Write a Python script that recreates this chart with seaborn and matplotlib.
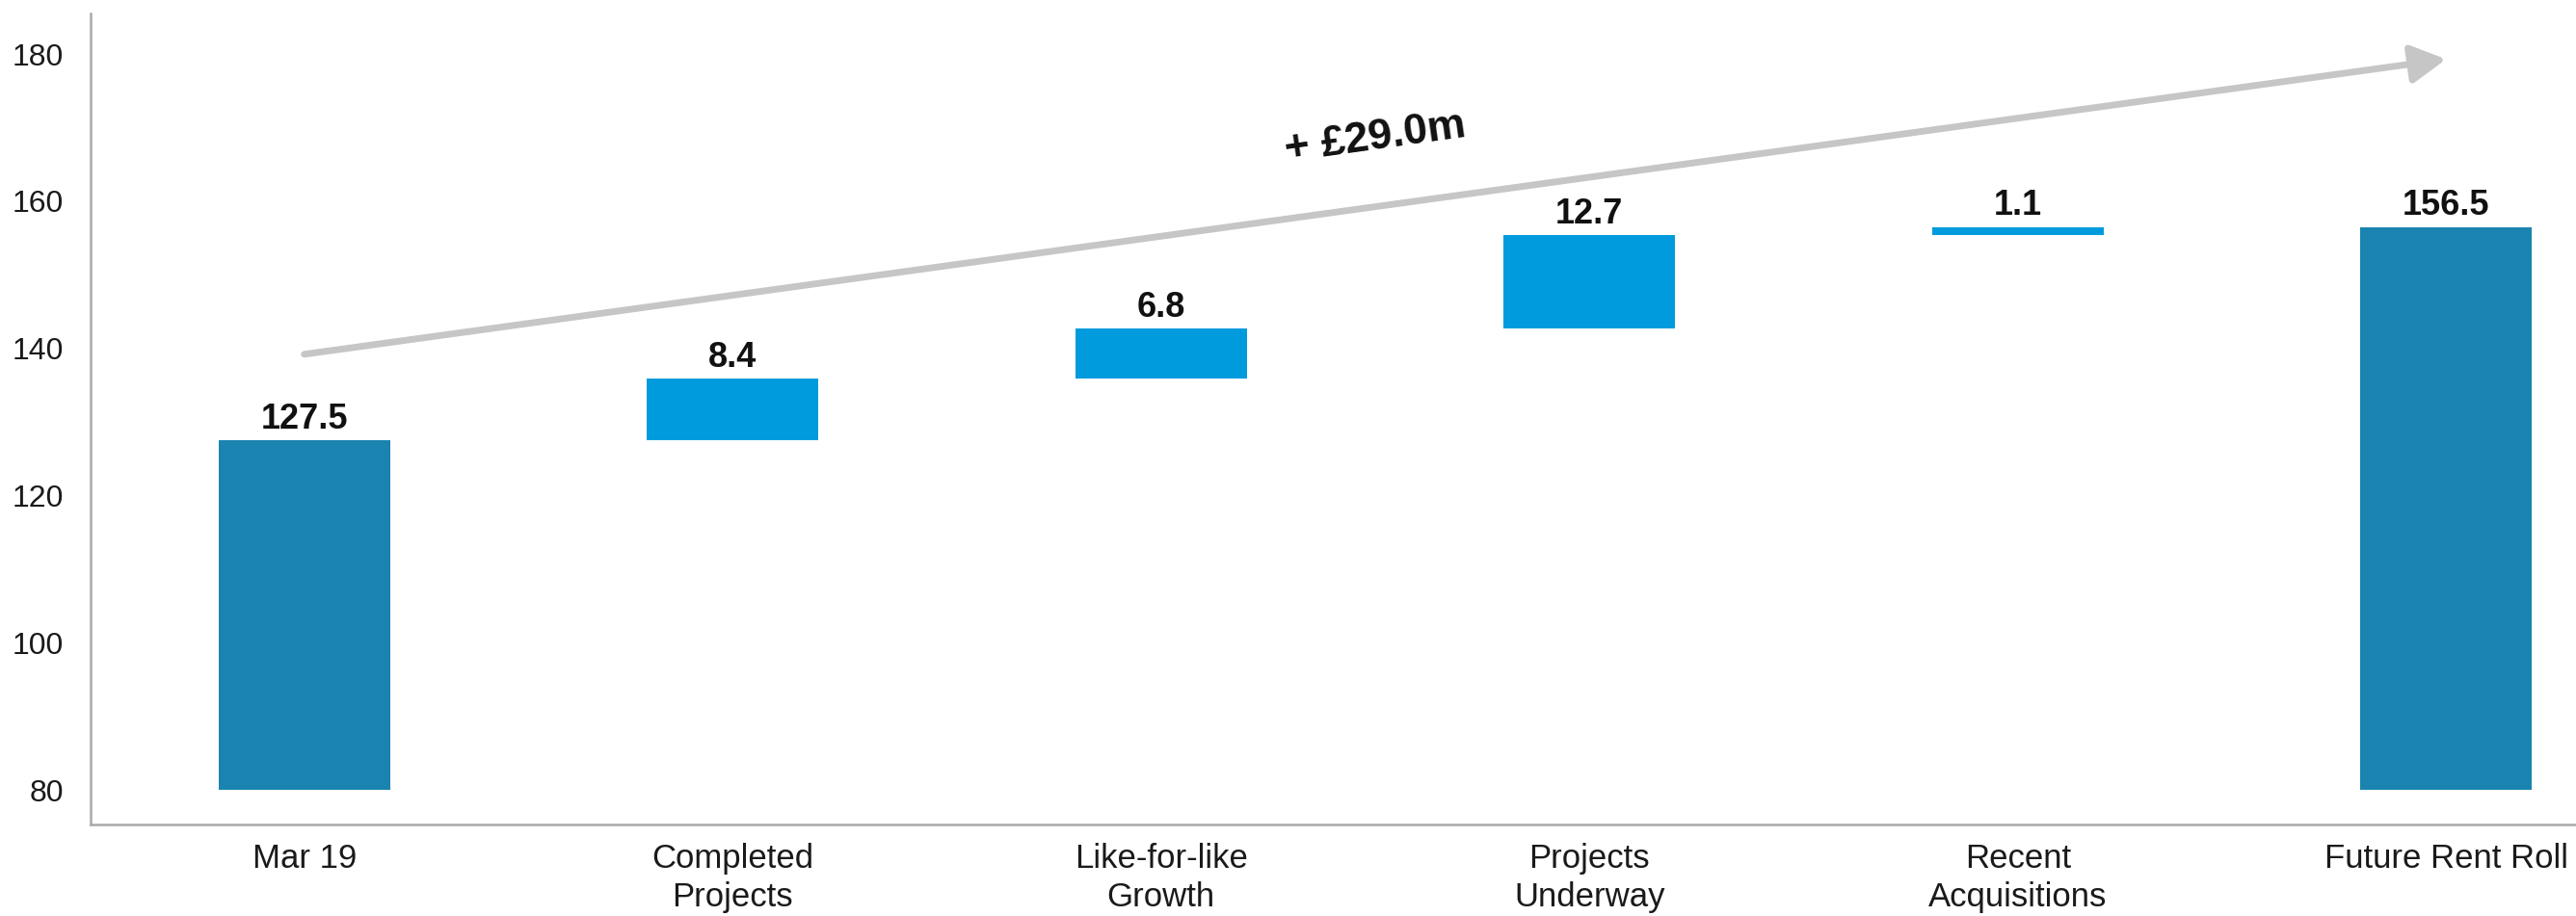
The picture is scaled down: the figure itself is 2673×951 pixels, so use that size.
import matplotlib
matplotlib.use("Agg")
import matplotlib.pyplot as plt
import pandas as pd
import seaborn as sns

# Rent roll bridge (GBP m)
categories = ["Mar 19", "Completed\nProjects", "Like-for-like\nGrowth",
              "Projects\nUnderway", "Recent\nAcquisitions", "Future Rent Roll"]
values = [127.5, 8.4, 6.8, 12.7, 1.1, 156.5]
is_total = [True, False, False, False, False, True]
y_ticks = [80, 100, 120, 140, 160, 180]
change_label = "+ £29.0m"

AXIS_FLOOR = 80
DARK = "#1a83b0"
LIGHT = "#009bdd"
SPINE = "#a9a9a9"
ARROW = "#c6c6c6"

# Floating bar geometry: totals stand on the axis floor, steps stack on the running total
bottoms, tops = [], []
running = 0.0
for v, tot in zip(values, is_total):
    if tot:
        bottoms.append(AXIS_FLOOR)
        running = v
        tops.append(v)
    else:
        bottoms.append(running)
        running += v
        tops.append(running)
heights = [t - b for t, b in zip(tops, bottoms)]

sns.set_theme(style="white")
plt.rcParams["font.family"] = ["Liberation Sans", "DejaVu Sans"]

fig = plt.figure(figsize=(26.73, 9.51), dpi=100)
ax = fig.add_axes([0.0352, 0.0999, 0.9648, 0.8853])

df = pd.DataFrame({"category": categories, "height": heights})
palette = {c: (DARK if t else LIGHT) for c, t in zip(categories, is_total)}
sns.barplot(data=df, x="category", y="height", hue="category", palette=palette,
            legend=False, width=0.4, saturation=1, ax=ax)
for patch, b in zip(ax.patches, bottoms):
    patch.set_y(b)
    patch.set_linewidth(0)

# Value labels above each bar
for i, (v, top) in enumerate(zip(values, tops)):
    ax.annotate(f"{v:.1f}", xy=(i, top), xytext=(0, 3), textcoords="offset points",
                ha="center", va="bottom", fontsize=26, fontweight="bold", color="#111111")

# Overall growth arrow
ax.annotate("", xy=(5.0, 179.3), xytext=(0.0, 139.2),
            arrowprops=dict(arrowstyle="-|>,head_length=1.1,head_width=0.6",
                            mutation_scale=20, color=ARROW, lw=5,
                            shrinkA=0, shrinkB=0))
ax.text(2.50, 168.6, change_label, rotation=8, rotation_mode="anchor",
        ha="center", va="center", fontsize=32, fontweight="bold", color="#111111")

ax.set_xlim(-0.4985, 5.303)
ax.set_ylim(75.3, 185.5)
ax.set_yticks(y_ticks)
ax.set_xlabel("")
ax.set_ylabel("")
ax.tick_params(axis="y", length=0, pad=20, labelsize=23, labelcolor="#1a1a1a")
ax.tick_params(axis="x", length=0, pad=14, labelsize=25, labelcolor="#1a1a1a")
for lbl in ax.get_xticklabels():
    lbl.set_linespacing(1.25)

sns.despine(ax=ax)
for side in ("left", "bottom"):
    ax.spines[side].set_color(SPINE)
    ax.spines[side].set_linewidth(1.8)

fig.savefig("out.png", dpi=100)
